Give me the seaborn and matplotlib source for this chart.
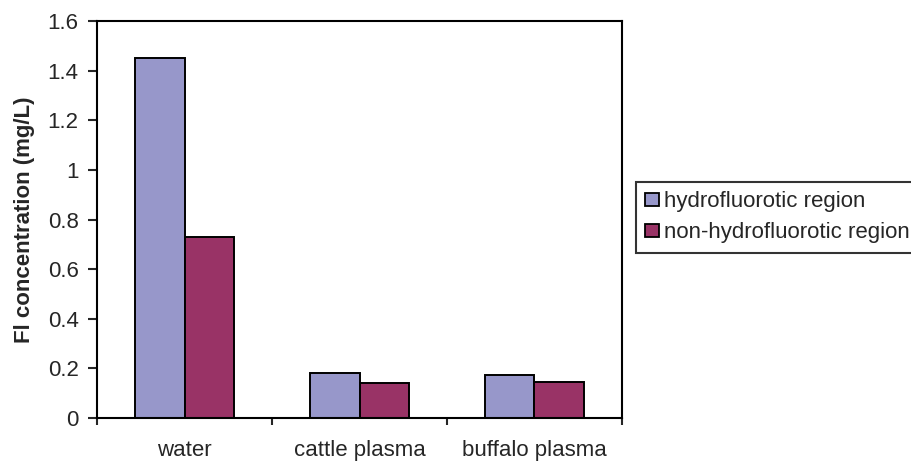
import pandas as pd
import numpy as np
import matplotlib.pyplot as plt
import seaborn as sns

categories = ['water', 'cattle plasma', 'buffalo plasma']
regions = ['hydrofluorotic region', 'non-hydrofluorotic region']
hydro = [1.45, 0.18, 0.175]
non_hydro = [0.73, 0.14, 0.145]
y_ticks = [0, 0.2, 0.4, 0.6, 0.8, 1, 1.2, 1.4, 1.6]
y_labels = ['0', '0.2', '0.4', '0.6', '0.8', '1', '1.2', '1.4', '1.6']
colors = ['#9797CA', '#993366']

df = pd.DataFrame({
    'sample': categories * 2,
    'region': [regions[0]] * 3 + [regions[1]] * 3,
    'conc': hydro + non_hydro,
})

sns.set_style('white')
plt.rcParams['font.family'] = ['Liberation Sans', 'DejaVu Sans']

fig = plt.figure(figsize=(9.12, 4.61), dpi=100)
ax = fig.add_axes([0.1064, 0.0933, 0.5756, 0.8611])

sns.barplot(data=df, x='sample', y='conc', hue='region', order=categories,
            hue_order=regions, palette=colors, width=0.57,
            edgecolor='black', linewidth=1.4, saturation=1, ax=ax)

ax.set_ylim(0, 1.6)
ax.set_xlim(-0.5, 2.5)
ax.set_yticks(y_ticks)
ax.set_yticklabels(y_labels, fontsize=16)
ax.set_xticks(range(3))
ax.set_xticklabels(categories, fontsize=16)
ax.set_xticks([-0.5, 0.5, 1.5, 2.5], minor=True)
ax.tick_params(axis='x', which='major', length=0, pad=15.5)
ax.tick_params(axis='x', which='minor', length=5, width=1.5, direction='out', bottom=True)
ax.tick_params(axis='y', length=6.3, width=1.5, direction='out', left=True, pad=7)
ax.set_xlabel('')
ax.set_ylabel('Fl concentration (mg/L)', fontsize=16, fontweight='bold', labelpad=9)

for s in ax.spines.values():
    s.set_visible(True)
    s.set_color('black')
    s.set_linewidth(1.5)

# legend to the right of the plot; its frame runs off the edge like the original
ax.get_legend().remove()
handles = [plt.Rectangle((0, 0), 1, 1, facecolor=c, edgecolor='black', linewidth=1.3)
           for c in colors]
leg = fig.legend(handles, regions, loc='upper left', bbox_to_anchor=(0.6974, 0.6052),
                 fontsize=16, frameon=True, fancybox=False, edgecolor='black',
                 handlelength=0.6, handleheight=0.55, handletextpad=0.25,
                 borderpad=0.42, labelspacing=0.45, borderaxespad=0)
leg.get_frame().set_linewidth(1.5)

fig.savefig('out.png', dpi=100)
